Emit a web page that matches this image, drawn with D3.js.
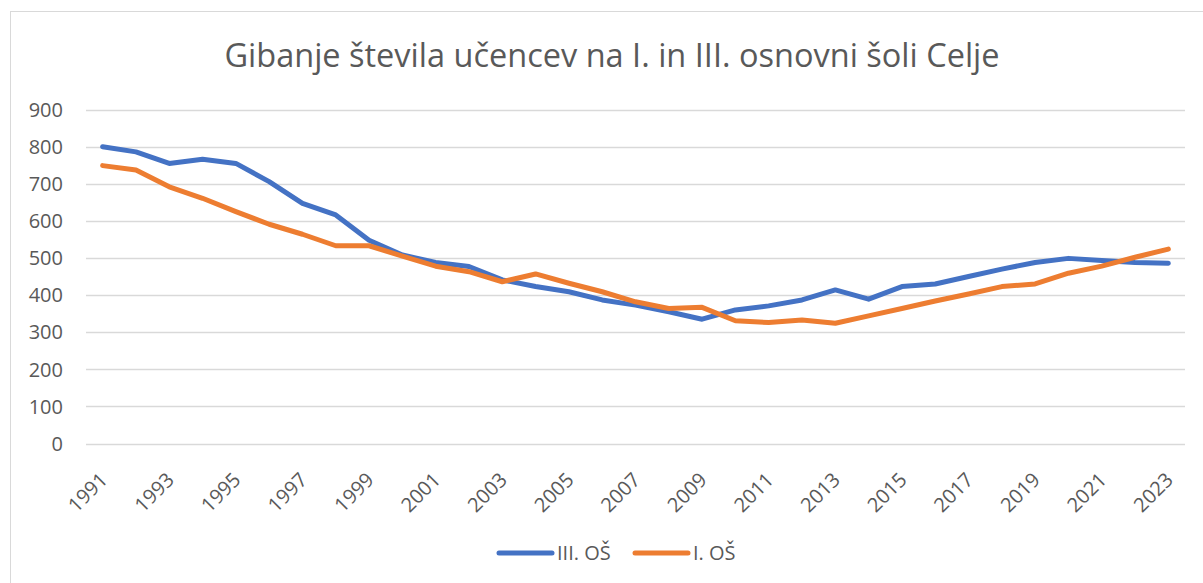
<!DOCTYPE html>
<meta charset="utf-8">
<style>
body { margin: 0; background: #fff; }
text { font-family: "Open Sans", "Noto Sans", sans-serif; fill: #595959; }
</style>
<svg width="1203" height="583"></svg>
<script src="https://d3js.org/d3.v7.min.js"></script>
<script>

var years = d3.range(1991, 2024);
var iiiOs = [800, 786, 755, 766, 755, 706, 647, 616, 548, 508, 488, 477, 441, 423, 409, 387, 373, 355, 335, 360, 371, 387, 414, 389, 423, 430, 450, 470, 488, 499, 493, 488, 486];
var iOs   = [749, 737, 692, 661, 625, 591, 564, 533, 533, 505, 478, 463, 436, 457, 432, 409, 382, 364, 367, 331, 326, 333, 324, 344, 364, 384, 403, 423, 430, 459, 478, 502, 524];
var yTicks = [0, 100, 200, 300, 400, 500, 600, 700, 800, 900];
var seriesNames = ["III. OŠ", "I. OŠ"];
var colors = ["#4472C4", "#ED7D31"];

var svg = d3.select("svg");

// chart frame
svg.append("rect")
    .attr("x", 10.5).attr("y", 11.5)
    .attr("width", 1220).attr("height", 600)
    .attr("fill", "none")
    .attr("stroke", "#d9d9d9");

svg.append("text")
    .attr("x", 612).attr("y", 67)
    .attr("text-anchor", "middle")
    .style("font-size", "32.5px")
    .text("Gibanje števila učencev na I. in III. osnovni šoli Celje");

var x = d3.scalePoint()
    .domain(years)
    .range([86, 1185])
    .padding(0.5);

var y = d3.scaleLinear()
    .domain([0, 900])
    .range([443.5, 109.6]);

// gridlines
svg.append("g")
  .selectAll("line")
  .data(yTicks)
  .join("line")
    .attr("x1", 86).attr("x2", 1185)
    .attr("y1", function(d) { return Math.round(y(d)) + 0.5; })
    .attr("y2", function(d) { return Math.round(y(d)) + 0.5; })
    .attr("stroke", "#d9d9d9")
    .attr("stroke-width", 1.5);

svg.append("g")
  .selectAll("text")
  .data(yTicks)
  .join("text")
    .attr("x", 63)
    .attr("y", function(d) { return y(d); })
    .attr("dy", "0.36em")
    .attr("text-anchor", "end")
    .style("font-size", "20px")
    .text(function(d) { return d; });

svg.append("g")
  .selectAll("text")
  .data(years.filter(function(d) { return (d - 1991) % 2 === 0; }))
  .join("text")
    .attr("transform", function(d) { return "translate(" + (x(d) + 1) + ",476) rotate(-45)"; })
    .attr("text-anchor", "end")
    .attr("dy", "0.36em")
    .style("font-size", "20px")
    .text(function(d) { return d; });

var line = d3.line()
    .x(function(d, i) { return x(years[i]); })
    .y(function(d) { return y(d); });

[iiiOs, iOs].forEach(function(values, i) {
  svg.append("path")
      .datum(values)
      .attr("fill", "none")
      .attr("stroke", colors[i])
      .attr("stroke-width", 5)
      .attr("stroke-linejoin", "round")
      .attr("stroke-linecap", "round")
      .attr("d", line);
});

// legend
var legend = svg.append("g")
  .selectAll("g")
  .data(seriesNames)
  .join("g")
    .attr("transform", function(d, i) { return "translate(" + (499 + i * 136) + ",553)"; });

legend.append("line")
    .attr("x1", 0).attr("x2", 53)
    .attr("stroke", function(d, i) { return colors[i]; })
    .attr("stroke-width", 5)
    .attr("stroke-linecap", "round");

legend.append("text")
    .attr("x", 58)
    .attr("dy", "0.36em")
    .style("font-size", "20px")
    .text(function(d) { return d; });

</script>
